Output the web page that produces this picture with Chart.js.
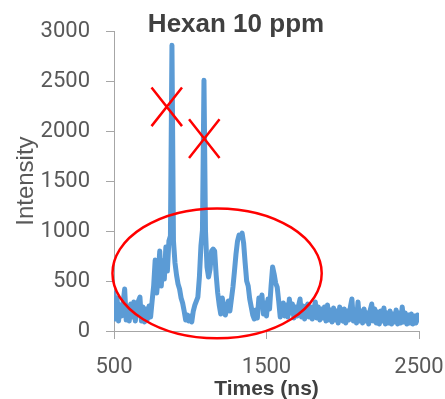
<!DOCTYPE html>
<html>
<head>
<meta charset="utf-8">
<script src="https://cdn.jsdelivr.net/npm/chart.js@4/dist/chart.umd.min.js"></script>
<style>
  html, body { margin: 0; padding: 0; background: #fff; }
</style>
</head>
<body>
<canvas id="hexan-chart" width="445" height="399"></canvas>
<script>
const times = [
  500, 510, 520, 530, 540, 550, 560, 570, 580, 590,
  600, 610, 620, 630, 640, 650, 660, 670, 680, 690,
  700, 710, 720, 730, 740, 750, 760, 770, 780, 790,
  800, 810, 820, 830, 840, 850, 860, 870, 880, 890,
  900, 910, 920, 930, 940, 950, 960, 970, 980, 990,
  1000, 1010, 1020, 1030, 1040, 1050, 1060, 1070, 1080, 1090,
  1100, 1110, 1120, 1130, 1140, 1150, 1160, 1170, 1180, 1190,
  1200, 1210, 1220, 1230, 1240, 1250, 1260, 1270, 1280, 1290,
  1300, 1310, 1320, 1330, 1340, 1350, 1360, 1370, 1380, 1390,
  1400, 1410, 1420, 1430, 1440, 1450, 1460, 1470, 1480, 1490,
  1500, 1510, 1520, 1530, 1540, 1550, 1560, 1570, 1580, 1590,
  1600, 1610, 1620, 1630, 1640, 1650, 1660, 1670, 1680, 1690,
  1700, 1710, 1720, 1730, 1740, 1750, 1760, 1770, 1780, 1790,
  1800, 1810, 1820, 1830, 1840, 1850, 1860, 1870, 1880, 1890,
  1900, 1910, 1920, 1930, 1940, 1950, 1960, 1970, 1980, 1990,
  2000, 2010, 2020, 2030, 2040, 2050, 2060, 2070, 2080, 2090,
  2100, 2110, 2120, 2130, 2140, 2150, 2160, 2170, 2180, 2190,
  2200, 2210, 2220, 2230, 2240, 2250, 2260, 2270, 2280, 2290,
  2300, 2310, 2320, 2330, 2340, 2350, 2360, 2370, 2380, 2390,
  2400, 2410, 2420, 2430, 2440, 2450, 2460, 2470, 2480, 2490,
  2500
];
const intensity = [
  380, 120, 330, 100, 260, 150, 290, 420, 110, 250,
  100, 270, 140, 290, 100, 230, 300, 340, 100, 240,
  90, 220, 120, 250, 140, 300, 450, 710, 380, 560,
  800, 450, 700, 520, 840, 600, 900, 950, 2860, 900,
  680, 560, 470, 420, 330, 280, 200, 110, 160, 100,
  150, 90, 200, 260, 300, 340, 540, 850, 1010, 2510,
  1000, 640, 540, 620, 800, 820, 800, 560, 380, 260,
  170, 330, 240, 160, 220, 300, 200, 320, 440, 600,
  770, 900, 960, 940, 980, 880, 680, 500, 450, 320,
  240, 160, 120, 210, 130, 330, 260, 360, 170, 280,
  150, 320, 220, 450, 640, 570, 480, 440, 300, 140,
  220, 280, 150, 260, 140, 320, 180, 270, 130, 240,
  150, 250, 320, 140, 250, 120, 230, 270, 140, 240,
  120, 210, 290, 130, 240, 110, 220, 130, 240, 100,
  260, 110, 210, 90, 230, 110, 200, 80, 240, 120,
  100, 220, 80, 200, 110, 240, 320, 100, 210, 80,
  290, 100, 200, 80, 220, 100, 180, 70, 210, 270,
  100, 220, 80, 190, 70, 200, 100, 230, 70, 180,
  80, 200, 70, 170, 90, 210, 70, 180, 80, 240,
  90, 180, 70, 160, 80, 170, 70, 150, 80, 160,
  110
];
const xTicks = [500, 1500, 2500];
const yTicks = [0, 500, 1000, 1500, 2000, 2500, 3000];

// red hand-drawn markup, in data units
const crossTimes = [846, 1092];
const crossLevels = [2243, 1925];
const crossHalfTime = 100;
const crossHalfLevel = 193;
const ringTime = 1176, ringLevel = 577;
const ringHalfTime = 686, ringHalfLevel = 650;

const markup = {
  id: 'markup',
  afterDatasetsDraw(chart) {
    const { ctx, scales: { x, y } } = chart;
    ctx.save();
    ctx.strokeStyle = '#ff0000';
    ctx.lineWidth = 2.5;
    crossTimes.forEach((t, i) => {
      const x0 = x.getPixelForValue(t - crossHalfTime);
      const x1 = x.getPixelForValue(t + crossHalfTime);
      const y0 = y.getPixelForValue(crossLevels[i] + crossHalfLevel);
      const y1 = y.getPixelForValue(crossLevels[i] - crossHalfLevel);
      ctx.beginPath();
      ctx.moveTo(x0, y0); ctx.lineTo(x1, y1);
      ctx.moveTo(x0, y1); ctx.lineTo(x1, y0);
      ctx.stroke();
    });
    const cx = x.getPixelForValue(ringTime);
    const cy = y.getPixelForValue(ringLevel);
    const rx = x.getPixelForValue(ringTime + ringHalfTime) - cx;
    const ry = cy - y.getPixelForValue(ringLevel + ringHalfLevel);
    ctx.beginPath();
    ctx.ellipse(cx, cy, rx, ry, 0, 0, Math.PI * 2);
    ctx.stroke();
    ctx.restore();
  }
};

const axisGray = '#a6a6a6';
const tickFont = { family: 'Roboto', size: 22, lineHeight: 1.2 };

new Chart(document.getElementById('hexan-chart').getContext('2d'), {
  type: 'line',
  data: {
    datasets: [{
      label: 'Hexan 10 ppm',
      data: times.map((t, i) => ({ x: t, y: intensity[i] })),
      borderColor: '#5b9bd5',
      borderWidth: 5,
      borderJoinStyle: 'round',
      borderCapStyle: 'round',
      pointRadius: 0,
      tension: 0,
      fill: false
    }]
  },
  options: {
    responsive: false,
    animation: false,
    layout: { padding: { left: 31, right: 4, top: 0, bottom: 0 } },
    plugins: {
      legend: { display: false },
      tooltip: { enabled: false },
      title: {
        display: true,
        text: 'Hexan 10 ppm',
        color: '#404040',
        font: { family: 'Liberation Sans', size: 26, weight: 'bold', lineHeight: 1.2 },
        padding: { top: 9, bottom: -9 }
      }
    },
    scales: {
      x: {
        type: 'linear',
        min: 500,
        max: 2500,
        afterBuildTicks: s => { s.ticks = xTicks.map(v => ({ value: v })); },
        afterFit: s => { s.height = 68; s.paddingRight = 26; },
        grid: { drawOnChartArea: false, drawTicks: true, tickLength: 8, color: axisGray },
        border: { color: axisGray, width: 1 },
        ticks: { color: '#595959', font: tickFont, padding: 15, maxRotation: 0, autoSkip: false, callback: v => String(v) },
        title: {
          display: true,
          text: 'Times (ns)',
          color: '#404040',
          font: { family: 'Liberation Sans', size: 21, weight: 'bold', lineHeight: 1.2 },
          padding: { top: 0, bottom: -3 }
        }
      },
      y: {
        min: 0,
        max: 3000,
        afterBuildTicks: s => { s.ticks = yTicks.map(v => ({ value: v })); },
        afterFit: s => { s.width = 83; },
        grid: { drawOnChartArea: false, drawTicks: true, tickLength: 8, color: axisGray },
        border: { color: axisGray, width: 1 },
        ticks: { color: '#595959', font: tickFont, padding: 16, callback: v => String(v) },
        title: {
          display: true,
          text: 'Intensity',
          color: '#595959',
          font: { family: 'Liberation Sans', size: 24, lineHeight: 1.2 },
          padding: { top: -19, bottom: 0 }
        }
      }
    }
  },
  plugins: [markup]
});
</script>
</body>
</html>
